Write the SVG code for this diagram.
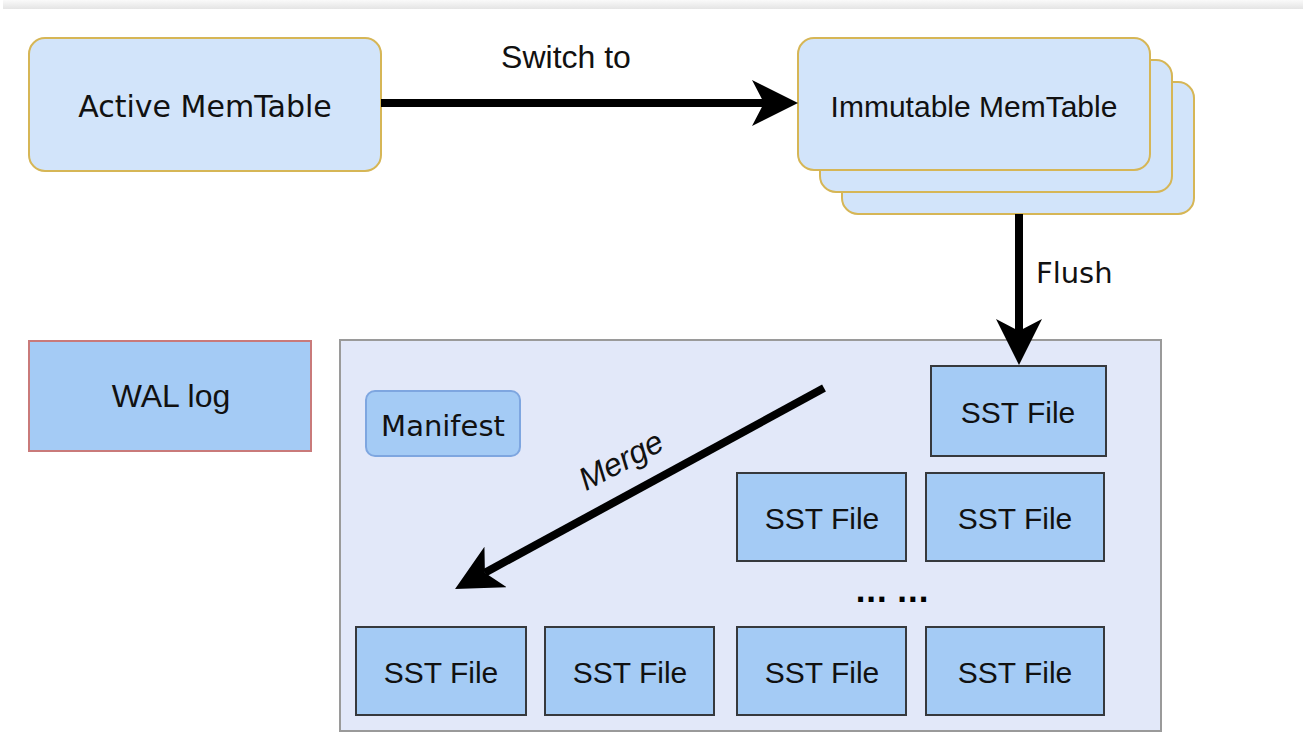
<svg xmlns="http://www.w3.org/2000/svg" width="1303" height="749" viewBox="0 0 1303 749">
<defs>
<linearGradient id="topband" x1="0" y1="0" x2="0" y2="1">
<stop offset="0" stop-color="#fafafa"/>
<stop offset="1" stop-color="#e4e4e4"/>
</linearGradient>
<marker id="arrow" markerUnits="userSpaceOnUse" markerWidth="46" markerHeight="46" refX="12" refY="23" orient="auto" viewBox="0 0 46 46">
<path d="M0,0 L46,23 L0,46 L12,23 Z" fill="#000"/>
</marker>
</defs>
<style>
.mem{fill:#d2e4fa;stroke:#d6b656;stroke-width:2}
.sst{fill:#a4cbf5;stroke:#36393d;stroke-width:2}
.v{font-family:"DejaVu Sans",Verdana,sans-serif;fill:#111}
.h{font-family:"Liberation Sans",Arial,sans-serif;fill:#111}
.edge{stroke:#000;stroke-width:8;fill:none;marker-end:url(#arrow)}
</style>
<rect x="0" y="0" width="1303" height="749" fill="#ffffff"/>
<rect x="3" y="0" width="1300" height="9" fill="url(#topband)"/>

<g id="container">
<rect x="340" y="340" width="821" height="391" fill="#e2e8f9" stroke="#9a9a9a" stroke-width="2"/>
</g>

<g id="active-memtable">
<rect class="mem" x="29" y="38" width="352" height="133" rx="16"/>
<text class="v" x="205" y="117" font-size="30" text-anchor="middle">Active MemTable</text>
</g>

<g id="immutable-memtable">
<rect class="mem" x="842" y="82" width="352" height="132" rx="16"/>
<rect class="mem" x="820" y="60" width="352" height="132" rx="16"/>
<rect class="mem" x="798" y="38" width="352" height="132" rx="16"/>
<text class="h" x="974" y="117" font-size="30" text-anchor="middle">Immutable MemTable</text>
</g>

<g id="wal-log">
<rect x="29" y="341" width="282" height="110" fill="#a4cbf5" stroke="#c97a7a" stroke-width="2"/>
<text class="h" x="171" y="407" font-size="32" text-anchor="middle">WAL log</text>
</g>

<g id="manifest">
<rect x="366" y="391" width="154" height="65" rx="9" fill="#a4cbf5" stroke="#7ea6e0" stroke-width="2"/>
<text class="v" x="443" y="436" font-size="29" text-anchor="middle">Manifest</text>
</g>

<g id="sst-top">
<rect class="sst" x="931" y="366" width="175" height="90"/>
<text class="h" x="1018" y="423" font-size="30" text-anchor="middle">SST File</text>
</g>
<g id="sst-mid-1">
<rect class="sst" x="737" y="473" width="169" height="88"/>
<text class="h" x="822" y="529" font-size="30" text-anchor="middle">SST File</text>
</g>
<g id="sst-mid-2">
<rect class="sst" x="926" y="473" width="178" height="88"/>
<text class="h" x="1015" y="529" font-size="30" text-anchor="middle">SST File</text>
</g>
<g id="sst-bottom-1">
<rect class="sst" x="356" y="627" width="170" height="88"/>
<text class="h" x="441" y="683" font-size="30" text-anchor="middle">SST File</text>
</g>
<g id="sst-bottom-2">
<rect class="sst" x="545" y="627" width="169" height="88"/>
<text class="h" x="630" y="683" font-size="30" text-anchor="middle">SST File</text>
</g>
<g id="sst-bottom-3">
<rect class="sst" x="737" y="627" width="169" height="88"/>
<text class="h" x="822" y="683" font-size="30" text-anchor="middle">SST File</text>
</g>
<g id="sst-bottom-4">
<rect class="sst" x="926" y="627" width="178" height="88"/>
<text class="h" x="1015" y="683" font-size="30" text-anchor="middle">SST File</text>
</g>

<g id="ellipsis">
<text x="892" y="602" font-family="DejaVu Sans,Verdana,sans-serif" font-weight="bold" font-size="28" text-anchor="middle" fill="#000">... ...</text>
</g>

<g id="connectors">
<line class="edge" x1="381" y1="103" x2="764" y2="103"/>
<text class="h" x="566" y="68" font-size="32" text-anchor="middle">Switch to</text>
<line class="edge" x1="1019" y1="214" x2="1019" y2="331"/>
<text class="v" x="1036" y="283" font-size="29">Flush</text>
<line class="edge" x1="824" y1="388" x2="484.9" y2="572.7" stroke-width="9"/>
<text class="h" x="626" y="470" font-size="32" font-style="italic" text-anchor="middle" transform="rotate(-28 626 470)">Merge</text>
</g>
</svg>
